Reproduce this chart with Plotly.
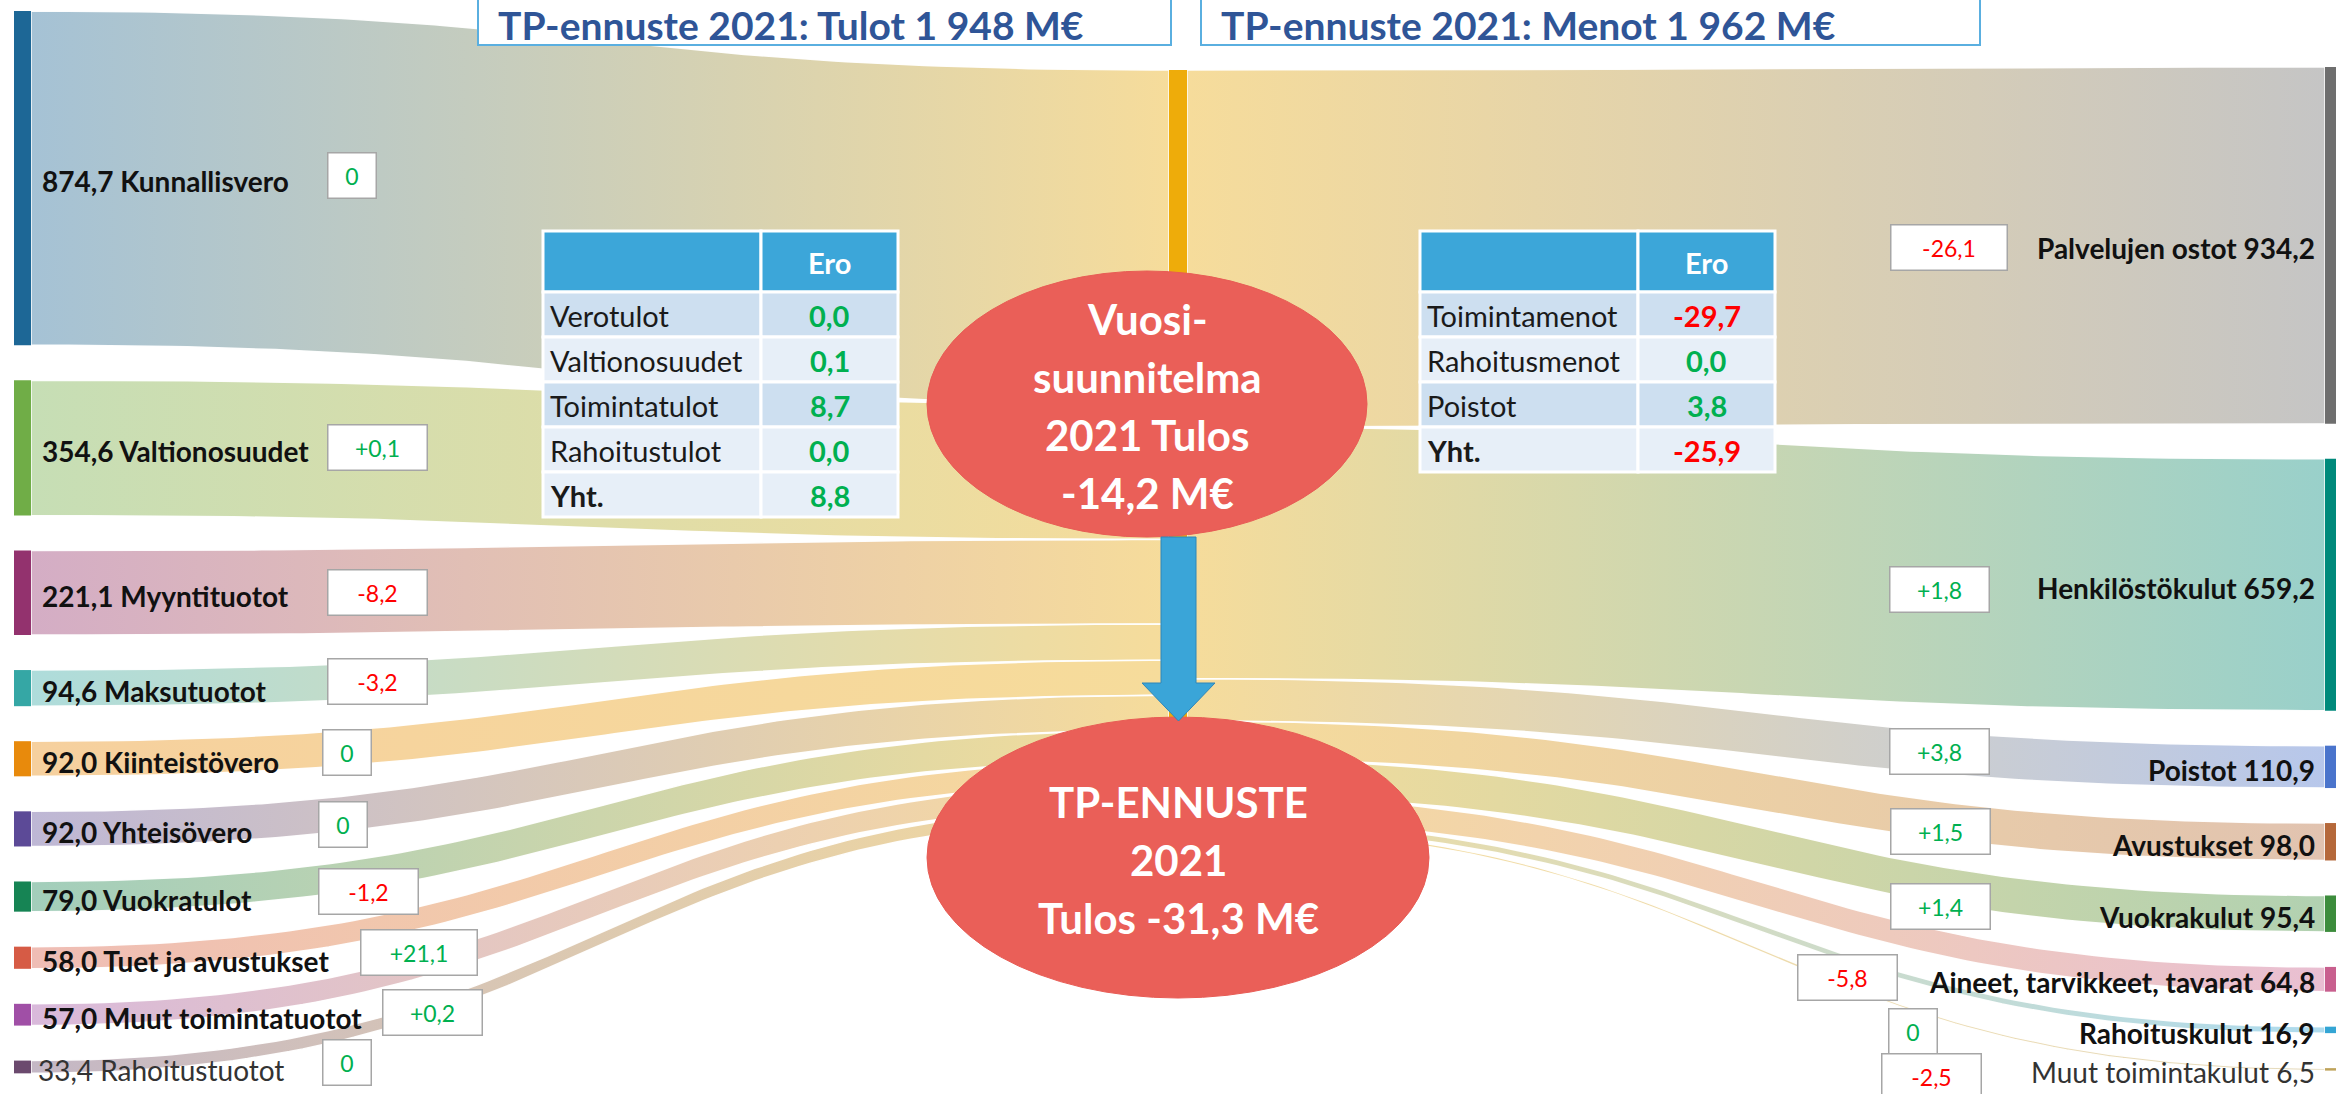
import numpy as np
import plotly.graph_objects as go

W, H = 2336, 1094

# ---------------- data ----------------
INCOME_NAMES = ["Kunnallisvero", "Valtionosuudet", "Myyntituotot", "Maksutuotot", "Kiinteistövero",
                "Yhteisövero", "Vuokratulot", "Tuet ja avustukset", "Muut toimintatuotot", "Rahoitustuotot"]
INCOME_VALUES = [874.7, 354.6, 221.1, 94.6, 92.0, 92.0, 79.0, 58.0, 57.0, 33.4]
INCOME_DELTAS = ["0", "+0,1", "-8,2", "-3,2", "0", "0", "-1,2", "+21,1", "+0,2", "0"]

COST_NAMES = ["Palvelujen ostot", "Henkilöstökulut", "Poistot", "Avustukset", "Vuokrakulut",
              "Aineet, tarvikkeet, tavarat", "Rahoituskulut", "Muut toimintakulut"]
COST_VALUES = [934.2, 659.2, 110.9, 98.0, 95.4, 64.8, 16.9, 6.5]
COST_DELTAS = ["-26,1", "+1,8", "+3,8", "+1,5", "+1,4", "-5,8", "0", "-2,5"]

INCOME_TABLE_ROWS = ["Verotulot", "Valtionosuudet", "Toimintatulot", "Rahoitustulot", "Yht."]
INCOME_TABLE_ERO = ["0,0", "0,1", "8,7", "0,0", "8,8"]
COST_TABLE_ROWS = ["Toimintamenot", "Rahoitusmenot", "Poistot", "Yht."]
COST_TABLE_ERO = ["-29,7", "0,0", "3,8", "-25,9"]
TABLE_HEADER = ["", "Ero"]

TITLE_INCOME = "TP-ennuste 2021: Tulot 1 948 M€"
TITLE_COST = "TP-ennuste 2021: Menot 1 962 M€"
PLAN_TEXT = ["Vuosi-", "suunnitelma", "2021 Tulos", "-14,2 M€"]
FORECAST_TEXT = ["TP-ENNUSTE", "2021", "Tulos -31,3 M€"]

# ---------------- styles / layout constants ----------------
INCOME_COLORS = ["#1d6796", "#70ad47", "#93326e", "#35a7a5", "#e88a0c",
                 "#5c4a97", "#168454", "#d65b45", "#a04fa6", "#6b4a6e"]
COST_COLORS = ["#6e6e6e", "#00897b", "#4a74cc", "#b5683a", "#3c8c3c",
               "#c85f8e", "#34a5d4", "#bfa35a"]
MID_COLOR = "#eeac0a"
MID_FLOW = "#f6dc9b"
GREEN = "#00b050"
RED = "#ff0000"
FONT = "Lato"

K = 0.382          # px per M€
PAD = 35           # px gap between nodes
LEFT_TOP, MID_TOP, RIGHT_TOP = 11, 70, 67
XL = (14, 31)
XM = (1169, 1187)
XR = (2325, 2342)

LEFT_BOX_X = [327, 327, 327, 327, 322, 318, 318, 360, 382, 322]
LEFT_BOX_DY = [-3, 0, 0, -7, -6, -4, -5, -5, -2, -4]
RIGHT_BOX_X = [1890, 1889, 1889, 1890, 1890, 1797, 1888, 1881]
RIGHT_BOX_DY = [2, 5, -15, -10, -7, -2, 2, 7]


def lighten(hexc, keep=0.4):
    h = hexc.lstrip("#")
    r, g, b = (int(h[i:i + 2], 16) for i in (0, 2, 4))
    f = lambda c: int(round(c * keep + 255 * (1 - keep)))
    return "rgb({},{},{})".format(f(r), f(g), f(b))


def fmt(v):
    return ("%.1f" % v).replace(".", ",")


def bez(xa, ya, xb, yb, n=90):
    t = np.linspace(0, 1, n)
    xm = (xa + xb) / 2
    x = (1 - t) ** 3 * xa + 3 * (1 - t) ** 2 * t * xm + 3 * (1 - t) * t ** 2 * xm + t ** 3 * xb
    y = (1 - t) ** 3 * ya + 3 * (1 - t) ** 2 * t * ya + 3 * (1 - t) * t ** 2 * yb + t ** 3 * yb
    return x, y


def stack(values, top, pad):
    y0s, y = [], top
    for v in values:
        y0s.append(y)
        y += v * K + pad
    return y0s


left_y0 = stack(INCOME_VALUES, LEFT_TOP, PAD)
right_y0 = stack(COST_VALUES, RIGHT_TOP, PAD)
mid_in_y0 = stack(INCOME_VALUES, MID_TOP, 0)
mid_out_y0 = stack(COST_VALUES, MID_TOP, 0)

fig = go.Figure()


def add_flow(xa, ya0, ya1, xb, yb0, yb1, c0, c1):
    tx, ty = bez(xa, ya0, xb, yb0)
    bx, by = bez(xa, ya1, xb, yb1)
    x = np.concatenate([tx, bx[::-1], tx[:1]])
    y = np.concatenate([ty, by[::-1], ty[:1]])
    fig.add_trace(go.Scatter(
        x=x, y=y, mode="lines", fill="toself",
        line=dict(color="rgba(255,255,255,0.95)", width=1.5),
        fillgradient=dict(type="horizontal", colorscale=[[0, c0], [1, c1]]),
        hoverinfo="skip", showlegend=False))


def add_bar(x0, x1, y0, y1, color):
    fig.add_trace(go.Scatter(
        x=[x0, x1, x1, x0, x0], y=[y0, y0, y1, y1, y0], mode="lines", fill="toself",
        fillcolor=color, line=dict(width=0, color=color), hoverinfo="skip", showlegend=False))


# flows: incomes -> middle
for i, v in enumerate(INCOME_VALUES):
    h = v * K
    add_flow(XL[1], left_y0[i], left_y0[i] + h, XM[0], mid_in_y0[i], mid_in_y0[i] + h,
             lighten(INCOME_COLORS[i]), MID_FLOW)
# flows: middle -> costs
for j, v in enumerate(COST_VALUES):
    h = v * K
    add_flow(XM[1], mid_out_y0[j], mid_out_y0[j] + h, XR[0], right_y0[j], right_y0[j] + h,
             MID_FLOW, lighten(COST_COLORS[j]))

# node bars
for i, v in enumerate(INCOME_VALUES):
    add_bar(XL[0], XL[1], left_y0[i], left_y0[i] + v * K, INCOME_COLORS[i])
for j, v in enumerate(COST_VALUES):
    add_bar(XR[0], XR[1], right_y0[j], right_y0[j] + v * K, COST_COLORS[j])
mid_h = max(sum(INCOME_VALUES), sum(COST_VALUES)) * K
add_bar(XM[0], XM[1], MID_TOP, MID_TOP + mid_h, MID_COLOR)

shapes = []
annotations = []


# tables (cells drawn as rectangles + text)
def draw_table(rows, ero, x0, x1, xdiv, y_top):
    n = len(rows)
    header_h, row_h = 61, 45
    dark, light = "#cddff0", "#e7eff8"
    edge = dict(color="white", width=3)
    for (cx0, cx1), t in zip([(x0, xdiv), (xdiv, x1)], TABLE_HEADER):
        shapes.append(dict(type="rect", xref="x", yref="y", x0=cx0, x1=cx1, y0=y_top,
                           y1=y_top + header_h, fillcolor="#3ca6d9", line=edge, layer="above"))
        if t:
            annotations.append(dict(x=(cx0 + cx1) / 2, y=y_top + header_h / 2 + 1, xref="x", yref="y",
                                    text="<b>%s</b>" % t, showarrow=False, xanchor="center",
                                    yanchor="middle", font=dict(family=FONT, size=29, color="white")))
    for k in range(n):
        ry0 = y_top + header_h + k * row_h
        fill = dark if (k % 2 == 0 and k < n - 1) else light
        for cx0, cx1 in [(x0, xdiv), (xdiv, x1)]:
            shapes.append(dict(type="rect", xref="x", yref="y", x0=cx0, x1=cx1, y0=ry0,
                               y1=ry0 + row_h, fillcolor=fill, line=edge, layer="above"))
        yc = ry0 + row_h / 2 + 1
        label = "<b>%s</b>" % rows[k] if k == n - 1 else rows[k]
        annotations.append(dict(x=x0 + 5, y=yc, xref="x", yref="y", text=label, showarrow=False,
                                xanchor="left", yanchor="middle",
                                font=dict(family=FONT, size=29, color="#1a1a1a")))
        annotations.append(dict(x=(xdiv + x1) / 2, y=yc, xref="x", yref="y",
                                text="<b>%s</b>" % ero[k], showarrow=False,
                                xanchor="center", yanchor="middle",
                                font=dict(family=FONT, size=29,
                                          color=RED if ero[k].startswith("-") else GREEN)))


draw_table(INCOME_TABLE_ROWS, INCOME_TABLE_ERO, 543, 898, 761, 231)
draw_table(COST_TABLE_ROWS, COST_TABLE_ERO, 1420, 1775, 1638, 231)

# title boxes
for (bx0, bx1, txt) in [(478, 1171, TITLE_INCOME), (1201, 1980, TITLE_COST)]:
    shapes.append(dict(type="rect", xref="x", yref="y", x0=bx0, x1=bx1, y0=-5, y1=45,
                       fillcolor="white", line=dict(color="#5aafe0", width=2), layer="above"))
    annotations.append(dict(x=bx0 + 19, y=1, xref="x", yref="y", xanchor="left", yanchor="top",
                            text="<b>%s</b>" % txt, showarrow=False, borderpad=0,
                            font=dict(family=FONT, size=39, color="#2f5597")))

# ellipses + arrow
E1 = (927, 1367, 271, 537)
E2 = (927, 1429, 717, 998)
for (ex0, ex1, ey0, ey1), lines in [(E1, PLAN_TEXT), (E2, FORECAST_TEXT)]:
    shapes.append(dict(type="circle", xref="x", yref="y", x0=ex0, x1=ex1, y0=ey0, y1=ey1,
                       fillcolor="#ea5f58", line=dict(color="#e85c55", width=1), layer="above"))
    cx, cy = (ex0 + ex1) / 2, (ey0 + ey1) / 2
    nl = len(lines)
    for k, ln in enumerate(lines):
        annotations.append(dict(x=cx, y=cy + (k - (nl - 1) / 2) * 58 + 2, xref="x", yref="y",
                                xanchor="center", yanchor="middle", text="<b>%s</b>" % ln,
                                showarrow=False, font=dict(family=FONT, size=42, color="white")))

ax = (XM[0] + XM[1]) / 2 + 0.5
arrow = ("M {a},{t} L {b},{t} L {b},{hb} L {c},{hb} L {m},{tip} L {d},{hb} L {a},{hb} Z"
         .format(a=ax - 17.5, b=ax + 17.5, c=ax + 36.5, d=ax - 36.5, m=ax, t=E1[3], hb=683, tip=721))
shapes.append(dict(type="path", xref="x", yref="y", path=arrow, fillcolor="#3aa5d8",
                   line=dict(color="#2f86b8", width=1), layer="above"))


# node labels and delta boxes
def delta_box(x, y, d):
    return dict(x=x, y=y, xref="x", yref="y", xanchor="left", yanchor="middle",
                text=d, showarrow=False, align="center", valign="middle",
                font=dict(family=FONT, size=23, color=RED if d.startswith("-") else GREEN),
                bgcolor="white", bordercolor="#a6a6a6", borderwidth=1.5, borderpad=0,
                width=30 + 17 * len(d), height=44)


n_in = len(INCOME_VALUES)
for i, (name, v) in enumerate(zip(INCOME_NAMES, INCOME_VALUES)):
    cy = left_y0[i] + v * K / 2
    txt = "%s %s" % (fmt(v), name)
    last = i == n_in - 1
    annotations.append(dict(x=40 if not last else 36, y=cy + 3, xref="x", yref="y", xanchor="left",
                            yanchor="middle", text=txt if last else "<b>%s</b>" % txt,
                            showarrow=False,
                            font=dict(family=FONT, size=28, color="#333333" if last else "#111111")))
    annotations.append(delta_box(LEFT_BOX_X[i], cy + LEFT_BOX_DY[i], INCOME_DELTAS[i]))

n_out = len(COST_VALUES)
for j, (name, v) in enumerate(zip(COST_NAMES, COST_VALUES)):
    cy = right_y0[j] + v * K / 2
    txt = "%s %s" % (name, fmt(v))
    last = j == n_out - 1
    annotations.append(dict(x=2317, y=cy + 3, xref="x", yref="y", xanchor="right",
                            yanchor="middle", text=txt if last else "<b>%s</b>" % txt,
                            showarrow=False,
                            font=dict(family=FONT, size=28, color="#333333" if last else "#111111")))
    annotations.append(delta_box(RIGHT_BOX_X[j], cy + RIGHT_BOX_DY[j], COST_DELTAS[j]))

fig.update_layout(
    width=W, height=H, margin=dict(l=0, r=0, t=0, b=0),
    paper_bgcolor="white", plot_bgcolor="white",
    xaxis=dict(range=[0, W], visible=False, fixedrange=True),
    yaxis=dict(range=[H, 0], visible=False, fixedrange=True),
    shapes=shapes, annotations=annotations, showlegend=False,
    font=dict(family=FONT),
)

fig.write_html("out.html", config={"displayModeBar": False},
               post_script="document.body.style.margin='0';document.body.style.overflow='hidden';")
